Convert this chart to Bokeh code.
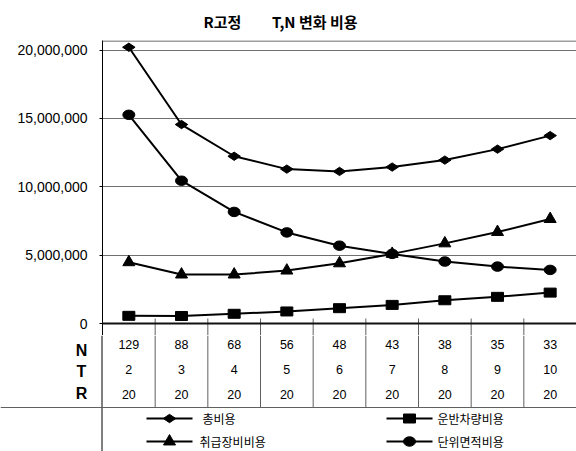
import math

from bokeh.plotting import figure
from bokeh.layouts import column
from bokeh.models import Range1d, FixedTicker, NumeralTickFormatter, Span
from bokeh.embed import file_html
from bokeh.resources import INLINE
from bokeh.core.properties import value

# ---- data -------------------------------------------------------------
n_vals = [129, 88, 68, 56, 48, 43, 38, 35, 33]
t_vals = [2, 3, 4, 5, 6, 7, 8, 9, 10]
r_vals = [20, 20, 20, 20, 20, 20, 20, 20, 20]

total_cost = [20.2e6, 14.55e6, 12.23e6, 11.29e6, 11.12e6, 11.44e6, 11.95e6, 12.75e6, 13.74e6]
vehicle_cost = [0.56e6, 0.55e6, 0.71e6, 0.88e6, 1.12e6, 1.36e6, 1.70e6, 1.95e6, 2.26e6]
handling_cost = [4.48e6, 3.58e6, 3.58e6, 3.87e6, 4.40e6, 5.09e6, 5.86e6, 6.69e6, 7.64e6]
area_cost = [15.26e6, 10.44e6, 8.16e6, 6.66e6, 5.69e6, 5.09e6, 4.53e6, 4.16e6, 3.92e6]

y_ticks = [0, 5e6, 10e6, 15e6, 20e6]
grid_ticks = [5e6, 10e6, 15e6, 20e6]

chart_title = "R고정" + "\u00a0" * 9 + "T,N 변화 비용"
row_names = ["N", "T", "R"]
legend_names = ["총비용", "운반차량비용", "취급장비비용", "단위면적비용"]

# ---- layout (canvas pixels) ---------------------------------------------
W, H = 576, 451
FRAME_LEFT, FRAME_TOP = 102, 40
SPLIT = 335                      # chart canvas bottom / table canvas top
ZERO_PX, TOP_TICK_PX = 323, 49.5
TABLE_BOTTOM = 407
px_per_unit = (ZERO_PX - TOP_TICK_PX) / 20e6
y_start = -(SPLIT - ZERO_PX) / px_per_unit
y_end = 20e6 + (TOP_TICK_PX - FRAME_TOP) / px_per_unit

n_cat = len(n_vals)
cell_w = (W - FRAME_LEFT) / n_cat
xs = [i + 0.5 for i in range(n_cat)]
bounds = [float(i) for i in range(1, n_cat)]

LW = 2
GRID = "#707070"


def cost_markers(fig, x, y, marker, **kw):
    """Black marker glyphs shared by the series and the legend."""
    if marker == "diamond":
        fig.scatter(x, y, marker="diamond", size=12.5, angle=math.pi / 2,
                    fill_color="black", line_color="black", **kw)
    elif marker == "square":
        fig.rect(x, y, width=12, height=9, width_units="screen", height_units="screen",
                 fill_color="black", line_color="black", **kw)
    elif marker == "triangle":
        fig.scatter(x, y, marker="triangle", size=12,
                    fill_color="black", line_color="black", **kw)
    else:
        fig.ellipse(x, y, width=12, height=9.5, width_units="screen", height_units="screen",
                    fill_color="black", line_color="black", **kw)


# ---- chart ------------------------------------------------------------------
p = figure(width=W, height=SPLIT, output_backend="svg", toolbar_location=None,
           x_range=Range1d(0, n_cat), y_range=Range1d(y_start, y_end),
           x_axis_location=None,
           min_border_left=FRAME_LEFT, min_border_top=FRAME_TOP,
           min_border_right=0, min_border_bottom=0)
p.frame_align = False
p.extra_y_ranges = {"py": Range1d(SPLIT, FRAME_TOP)}
p.outline_line_color = None
p.background_fill_color = "white"
p.border_fill_color = "white"

p.title.text = chart_title
p.title.align = "left"
p.title.offset = 203 - FRAME_LEFT
p.title.standoff = 17
p.title.text_font = "Noto Sans CJK KR"
p.title.text_font_style = "bold"
p.title.text_font_size = "15px"
p.title.text_color = "black"

ax = p.yaxis[0]
ax.ticker = FixedTicker(ticks=y_ticks)
ax.formatter = NumeralTickFormatter(format="0,0")
ax.minor_tick_line_color = None
ax.major_tick_in = 0
ax.major_tick_out = 3
ax.major_tick_line_color = "black"
ax.major_label_standoff = 12
ax.axis_line_color = "black"
ax.axis_line_width = 1
ax.major_label_text_font = "Liberation Sans"
ax.major_label_text_font_size = "14px"
ax.major_label_text_color = "black"

p.xgrid.visible = False
p.ygrid.ticker = FixedTicker(ticks=grid_ticks)
p.ygrid.grid_line_color = GRID
p.ygrid.grid_line_width = 1

p.add_layout(Span(location=FRAME_TOP + 0.5, dimension="width", y_range_name="py",
                  line_color="#404040", line_width=1))
p.add_layout(Span(location=0, dimension="width", line_color="#111111", line_width=2))

# category dividers start just above the zero line
p.segment(x0=bounds, y0=[318] * len(bounds), x1=bounds, y1=[SPLIT] * len(bounds),
          y_range_name="py", line_color="#606060", line_width=1)

series = [(total_cost, "diamond"), (vehicle_cost, "square"),
          (handling_cost, "triangle"), (area_cost, "circle")]
for vals, mk in series:
    p.line(xs, vals, line_color="black", line_width=LW)
for vals, mk in series:
    cost_markers(p, xs, vals, mk)

# ---- data table and legend --------------------------------------------------
t = figure(width=W, height=H - SPLIT, output_backend="svg", toolbar_location=None,
           x_range=Range1d(-FRAME_LEFT / cell_w, n_cat), y_range=Range1d(H, SPLIT),
           x_axis_location=None, y_axis_location=None,
           min_border_left=0, min_border_top=0, min_border_right=0, min_border_bottom=0)
t.frame_align = False
t.extra_x_ranges = {"px": Range1d(0, W)}
t.outline_line_color = None
t.background_fill_color = "white"
t.border_fill_color = "white"
t.xgrid.visible = False
t.ygrid.visible = False

# left border continues through table and legend
t.segment(x0=[FRAME_LEFT - 0.5], y0=[SPLIT], x1=[FRAME_LEFT - 0.5], y1=[H],
          x_range_name="px", line_color="black", line_width=1)
t.segment(x0=bounds, y0=[SPLIT] * len(bounds), x1=bounds, y1=[TABLE_BOTTOM] * len(bounds),
          line_color="#606060", line_width=1)
t.add_layout(Span(location=TABLE_BOTTOM, dimension="width", line_color="#606060", line_width=1))

num_font = value("Liberation Sans")
for row, ypx in zip([n_vals, t_vals, r_vals], [343.5, 368.8, 394.0]):
    t.text(x=xs, y=[ypx] * n_cat, text=[str(v) for v in row],
           text_align="center", text_baseline="middle", text_font=num_font,
           text_font_size="12.5px", text_color="black")

t.text(x=[81] * 3, y=[349.5, 370.5, 393.0], text=row_names, x_range_name="px",
       text_align="center", text_baseline="middle", text_font=num_font,
       text_font_style="bold", text_font_size="16px", text_color="black")

leg_line_x = [(146, 192), (386, 432), (146, 192), (386, 432)]
leg_y = [418, 418, 441, 441]
leg_text_x = [202, 437, 199, 437]
leg_markers = ["diamond", "square", "triangle", "circle"]

for (x0, x1), ypx, tx, name, mk in zip(leg_line_x, leg_y, leg_text_x, legend_names, leg_markers):
    t.segment(x0=[x0], y0=[ypx], x1=[x1], y1=[ypx], x_range_name="px",
              line_color="black", line_width=LW)
    cost_markers(t, [(x0 + x1) / 2], [ypx], mk, x_range_name="px")
    t.text(x=[tx], y=[ypx], text=[name], x_range_name="px",
           text_align="left", text_baseline="middle", text_font=value("Noto Sans CJK KR"),
           text_font_size="12px", text_color="black")

layout = column(p, t, spacing=0)
open("out.html", "w").write(file_html(layout, INLINE))
